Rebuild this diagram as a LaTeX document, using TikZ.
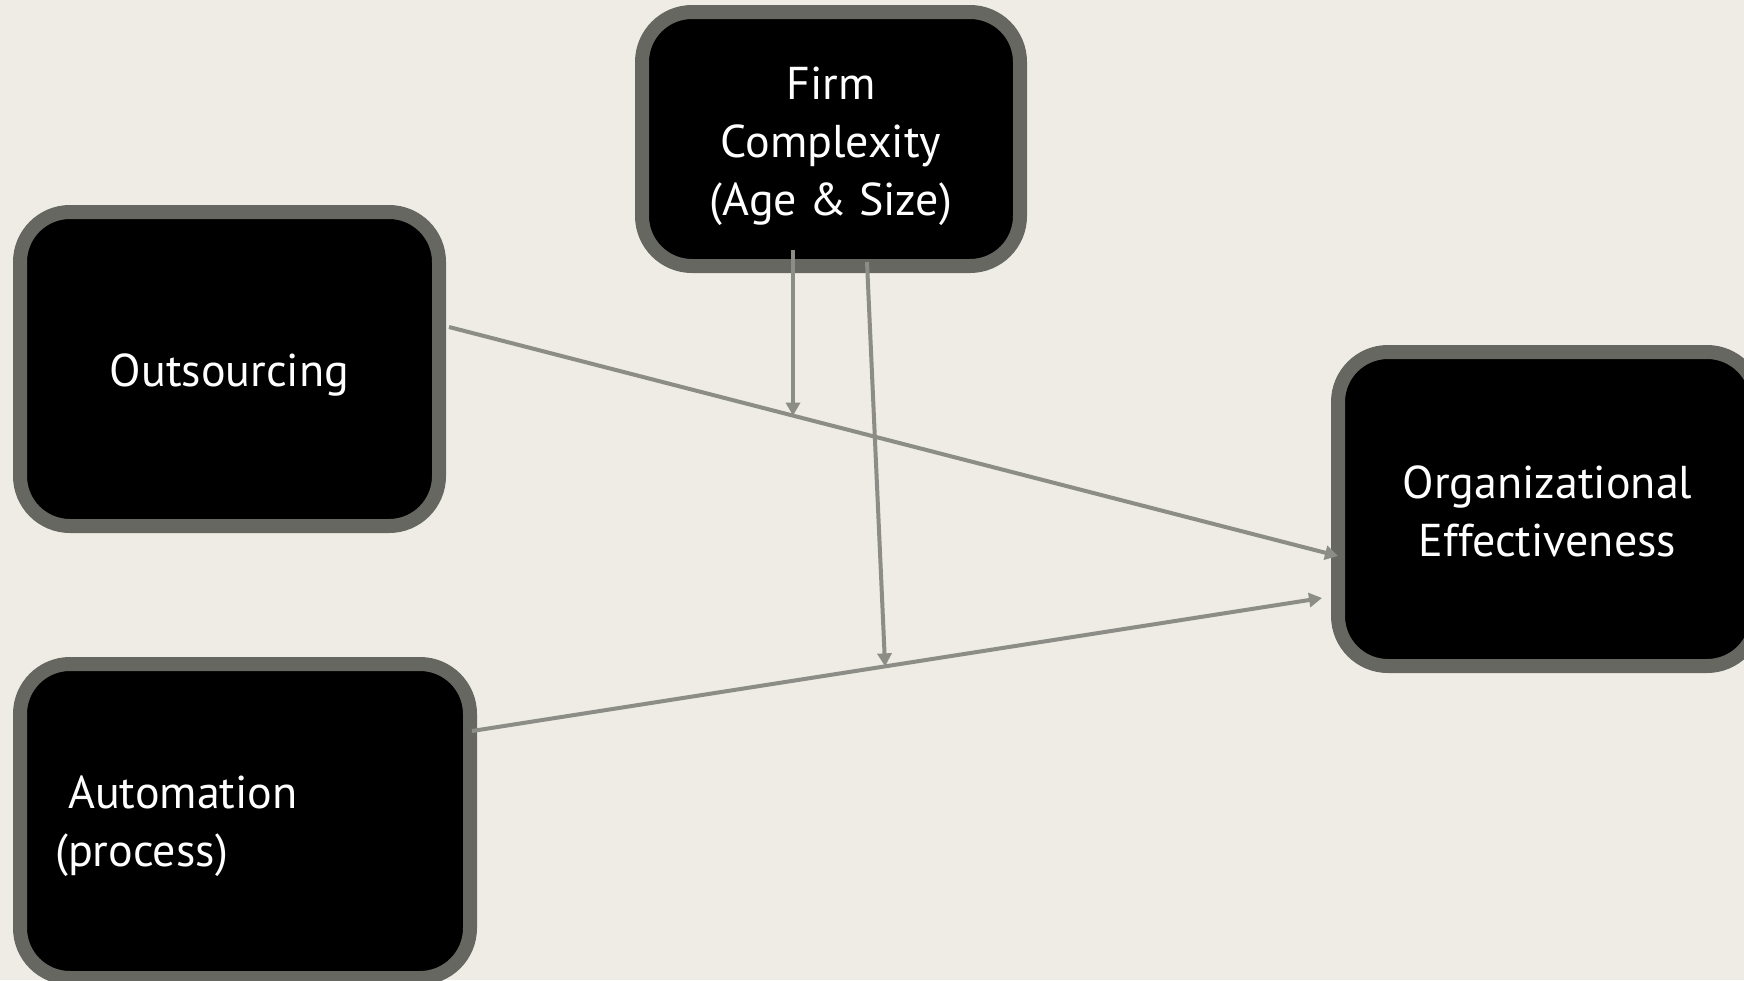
\documentclass[tikz,border=0pt]{standalone}
\usepackage{fontspec}
\setmainfont{PT Sans}
\usetikzlibrary{arrows.meta,calc}
\definecolor{bg}{HTML}{EEECE4}
\definecolor{bord}{HTML}{676762}
\definecolor{conn}{HTML}{8B8D86}
\tikzset{
  box/.style={rectangle, rounded corners=50pt, fill=black, draw=bord, line width=14pt,
    inner sep=0pt},
  lbl/.style={text=white, inner sep=0pt, font=\fontsize{46}{58}\selectfont},
  link/.style={draw=conn, line width=4pt, -{Triangle[length=13pt,width=14pt]}}
}
\begin{document}
\begin{tikzpicture}[x=1pt,y=-1pt]
\useasboundingbox (0,0) rectangle (1744,980);
\clip (0,0) rectangle (1744,980);
\fill[bg] (0,0) rectangle (1744,980);
\node[box, minimum width=378pt, minimum height=254pt] (firm) at (831,139) {};
\node[box, minimum width=419pt, minimum height=314pt] (out) at (229.5,369) {};
\node[box, minimum width=450pt, minimum height=314pt] (auto) at (245,821) {};
\node[box, minimum width=419pt, minimum height=314pt] (org) at (1547.5,509) {};
\node[lbl, anchor=base, align=center] (firmtxt) at (831,215) {Firm\\Complexity\\(Age \& Size)};
\node[lbl, anchor=base] (outtxt) at (229.5,386) {Outsourcing};
\node[lbl, anchor=base, align=center] (orgtxt) at (1547.5,556) {Organizational\\Effectiveness};
\node[lbl, anchor=base west, align=left] (autotxt) at (55,866) {\hspace*{13pt}Automation\\(process)};
% connector end points
\coordinate (o1) at ($(out.east)+(3,-42)$);
\coordinate (o2) at ($(org.west)+(7,47)$);
\coordinate (a1) at ($(auto.east)+(-5,-90)$);
\coordinate (a2) at ($(org.west)+(-9,89)$);
\draw[link] (o1) -- (o2) coordinate[pos=0.387] (m1);
\draw[link] (a1) -- (a2) coordinate[pos=0.486] (m2);
\coordinate (f1) at ($(firm.south)+(-38,-23)$);
\coordinate (f2) at ($(firm.south)+(36,-11)$);
\draw[link] (f1) -- (f1 |- m1);
\draw[link] (f2) -- (m2);
\end{tikzpicture}
\end{document}
